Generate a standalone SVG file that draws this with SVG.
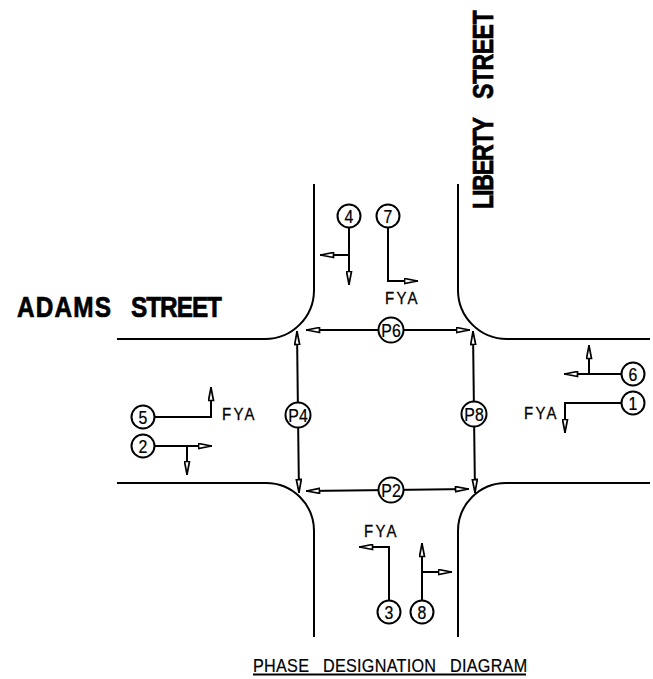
<svg xmlns="http://www.w3.org/2000/svg" width="653" height="679" viewBox="0 0 653 679">
<style>
.c{fill:none;stroke:#000;stroke-width:2}
.a{marker-end:url(#h)}
.r{fill:none;stroke:#000;stroke-width:2}
.n circle{fill:#fff;stroke:#000;stroke-width:2}
.n text{font-family:"Liberation Sans",Arial,sans-serif;font-size:18px;fill:#000;stroke:#000;stroke-width:.25;text-anchor:middle}
.f{font-family:"Liberation Sans",Arial,sans-serif;font-size:17px;letter-spacing:2.6px;fill:#000;stroke:#000;stroke-width:.3}
.t{font-family:"Liberation Sans",Arial,sans-serif;font-size:18px;letter-spacing:.3px;fill:#000;stroke:#000;stroke-width:.2}
.b{font-family:"Liberation Sans",Arial,sans-serif;font-weight:700;font-size:29px;fill:#000;stroke:#000;stroke-width:.7}
</style>
<defs>
<marker id="h" markerUnits="userSpaceOnUse" viewBox="0 0 15 7" refX="14.5" refY="3.5" markerWidth="15" markerHeight="7" orient="auto">
<path d="M1 1 L14 3.5 L1 6 Z" fill="#fff" stroke="#000" stroke-width="1.7"/>
</marker>
</defs>
<rect width="653" height="679" fill="#fff"/>
<g id="roads">
<path class="r" d="M314 184V290A49 49 0 0 1 265 339H117"/>
<path class="r" d="M458 184V290A49 49 0 0 0 507 339H650"/>
<path class="r" d="M117 483H266A48 48 0 0 1 314 531V637"/>
<path class="r" d="M650 483H506A48 48 0 0 0 458 531V637"/>
</g>
<g id="connectors">
<path class="c a" d="M391 330H306"/>
<path class="c a" d="M391 330H470"/>
<path class="c a" d="M298 415L297 331"/>
<path class="c a" d="M298 415L299 493"/>
<path class="c a" d="M474 414L473 331"/>
<path class="c a" d="M474 414L475 493"/>
<path class="c a" d="M391 490L306 491"/>
<path class="c a" d="M391 490L469 489"/>
<path class="c a" d="M349 216V285"/>
<path class="c a" d="M349 255H320"/>
<path class="c a" d="M388 216V281H418"/>
<path class="c a" d="M143 417H211V387"/>
<path class="c a" d="M143 446H212"/>
<path class="c a" d="M187 446V475"/>
<path class="c a" d="M633 374H564"/>
<path class="c a" d="M589 374V345"/>
<path class="c a" d="M633 403H565V433"/>
<path class="c a" d="M389 612V547H359"/>
<path class="c a" d="M422 612V543"/>
<path class="c a" d="M422 572H452"/>
</g>
<g id="p6" class="n"><circle cx="391" cy="330" r="12.5"/><text transform="translate(391 336.500) scale(.88 1)">P6</text></g>
<g id="p4" class="n"><circle cx="298" cy="415" r="12.5"/><text transform="translate(298 421.500) scale(.88 1)">P4</text></g>
<g id="p8" class="n"><circle cx="474" cy="414" r="12.5"/><text transform="translate(474 420.500) scale(.88 1)">P8</text></g>
<g id="p2" class="n"><circle cx="391" cy="490" r="12.5"/><text transform="translate(391 496.500) scale(.88 1)">P2</text></g>
<g id="n4" class="n"><circle cx="349" cy="216" r="11.5"/><text transform="translate(349 222.500) scale(.88 1)">4</text></g>
<g id="n7" class="n"><circle cx="388" cy="216" r="11.5"/><text transform="translate(388 222.500) scale(.88 1)">7</text></g>
<g id="n5" class="n"><circle cx="143" cy="417" r="11.5"/><text transform="translate(143 423.500) scale(.88 1)">5</text></g>
<g id="n2" class="n"><circle cx="143" cy="446" r="11.5"/><text transform="translate(143 452.500) scale(.88 1)">2</text></g>
<g id="n6" class="n"><circle cx="633" cy="374" r="11.5"/><text transform="translate(633 380.500) scale(.88 1)">6</text></g>
<g id="n1" class="n"><circle cx="633" cy="403" r="11.5"/><text transform="translate(633 409.500) scale(.88 1)">1</text></g>
<g id="n3" class="n"><circle cx="389" cy="612" r="11.5"/><text transform="translate(389 618.500) scale(.88 1)">3</text></g>
<g id="n8" class="n"><circle cx="422" cy="612" r="11.5"/><text transform="translate(422 618.500) scale(.88 1)">8</text></g>
<g id="labels">
<text class="f" transform="translate(385 304) scale(.88 1)">FYA</text>
<text class="f" transform="translate(222 420) scale(.88 1)">FYA</text>
<text class="f" transform="translate(524 419) scale(.88 1)">FYA</text>
<text class="f" transform="translate(364 537) scale(.88 1)">FYA</text>
<text class="b" transform="translate(17 317) scale(.84 1)"><tspan letter-spacing="1.4">ADAMS</tspan> <tspan x="135.700" letter-spacing="-1.2">STREET</tspan></text>
<text class="b" transform="translate(493 209) rotate(-90) scale(.8 1)"><tspan letter-spacing="-1.5">LIBERTY</tspan> <tspan x="137.500" letter-spacing="-.7">STREET</tspan></text>
<text class="t" transform="translate(253 672) scale(.9 1)">PHASE <tspan x="77.800">DESIGNATION</tspan> <tspan x="218.900">DIAGRAM</tspan></text>
<path class="c" d="M253 674.500H526"/>
</g>
</svg>
